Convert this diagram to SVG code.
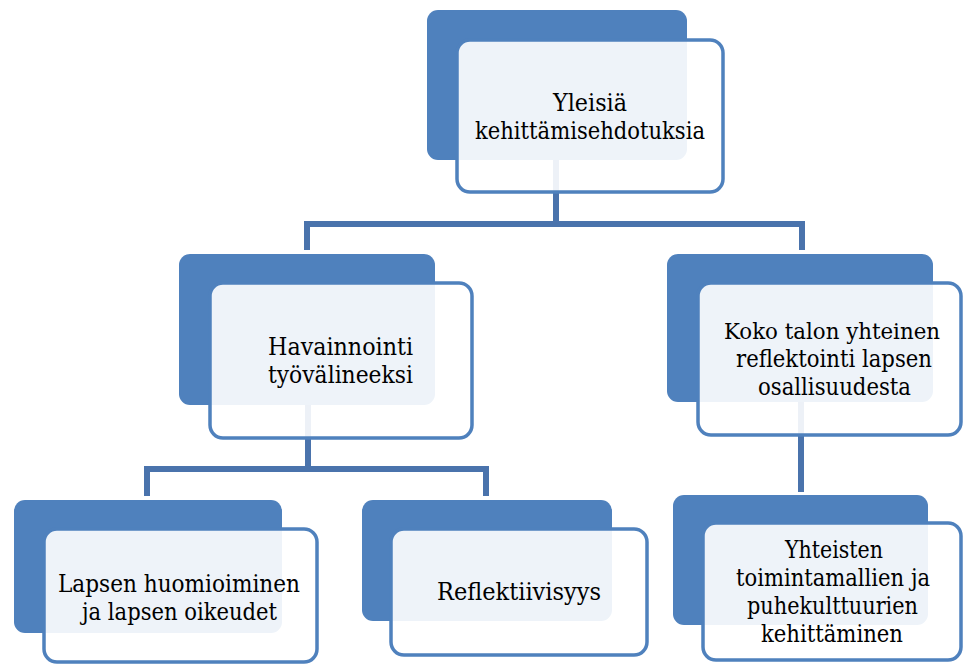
<svg xmlns="http://www.w3.org/2000/svg" width="963" height="666" viewBox="0 0 963 666">
<style>
.bg{fill:#4f81bd}
.card{fill:#ffffff;fill-opacity:0.9;stroke:#4f81bd;stroke-width:3.5}
.lbl{font-family:'DejaVu Serif','Liberation Serif',serif;font-size:24px;fill:#000;text-anchor:middle}
.con{fill:none;stroke:#4a73ac;stroke-width:6}
</style>
<rect width="963" height="666" fill="#ffffff"/>
<g id="connectors">
<path class="con" d="M556,160 V224"/>
<path class="con" d="M307,250 V224 H802 V250"/>
<path class="con" d="M308,405 V469"/>
<path class="con" d="M147,496 V469 H486 V496"/>
<path class="con" d="M801,402 V492"/>
</g>
<g id="node-top">
<rect class="bg" x="427" y="10" width="260" height="150" rx="11"/>
<rect class="card" x="457" y="40" width="266" height="152" rx="13"/>
<text class="lbl" x="590" y="111" textLength="74" lengthAdjust="spacingAndGlyphs">Yleisiä</text>
<text class="lbl" x="590" y="139" textLength="230" lengthAdjust="spacingAndGlyphs">kehittämisehdotuksia</text>
</g>
<g id="node-havainnointi">
<rect class="bg" x="179" y="254" width="256" height="151" rx="11"/>
<rect class="card" x="210" y="283" width="262" height="155" rx="13"/>
<text class="lbl" x="340.5" y="355" textLength="145" lengthAdjust="spacingAndGlyphs">Havainnointi</text>
<text class="lbl" x="340.5" y="383" textLength="145" lengthAdjust="spacingAndGlyphs">työvälineeksi</text>
</g>
<g id="node-koko">
<rect class="bg" x="667" y="254" width="266" height="148" rx="11"/>
<rect class="card" x="698" y="283" width="263" height="152" rx="13"/>
<text class="lbl" x="832" y="339" style="font-size:23px" textLength="216" lengthAdjust="spacingAndGlyphs">Koko talon yhteinen</text>
<text class="lbl" x="834" y="367" textLength="196" lengthAdjust="spacingAndGlyphs">reflektointi lapsen</text>
<text class="lbl" x="834.5" y="395" textLength="153" lengthAdjust="spacingAndGlyphs">osallisuudesta</text>
</g>
<g id="node-lapsen">
<rect class="bg" x="14" y="500" width="268" height="133" rx="11"/>
<rect class="card" x="44" y="529" width="273" height="133" rx="13"/>
<text class="lbl" x="179" y="592" textLength="242" lengthAdjust="spacingAndGlyphs">Lapsen huomioiminen</text>
<text class="lbl" x="179.5" y="620" textLength="195" lengthAdjust="spacingAndGlyphs">ja lapsen oikeudet</text>
</g>
<g id="node-reflektiivisyys">
<rect class="bg" x="362" y="500" width="250" height="121" rx="11"/>
<rect class="card" x="391" y="529" width="256" height="126" rx="13"/>
<text class="lbl" x="519" y="600" textLength="164" lengthAdjust="spacingAndGlyphs">Reflektiivisyys</text>
</g>
<g id="node-yhteisten">
<rect class="bg" x="673" y="495" width="255" height="130" rx="11"/>
<rect class="card" x="703" y="523" width="258" height="137" rx="13"/>
<text class="lbl" x="834" y="558" textLength="98" lengthAdjust="spacingAndGlyphs">Yhteisten</text>
<text class="lbl" x="833" y="586" textLength="194" lengthAdjust="spacingAndGlyphs">toimintamallien ja</text>
<text class="lbl" x="832.5" y="614" textLength="171" lengthAdjust="spacingAndGlyphs">puhekulttuurien</text>
<text class="lbl" x="832" y="642" textLength="142" lengthAdjust="spacingAndGlyphs">kehittäminen</text>
</g>
</svg>
